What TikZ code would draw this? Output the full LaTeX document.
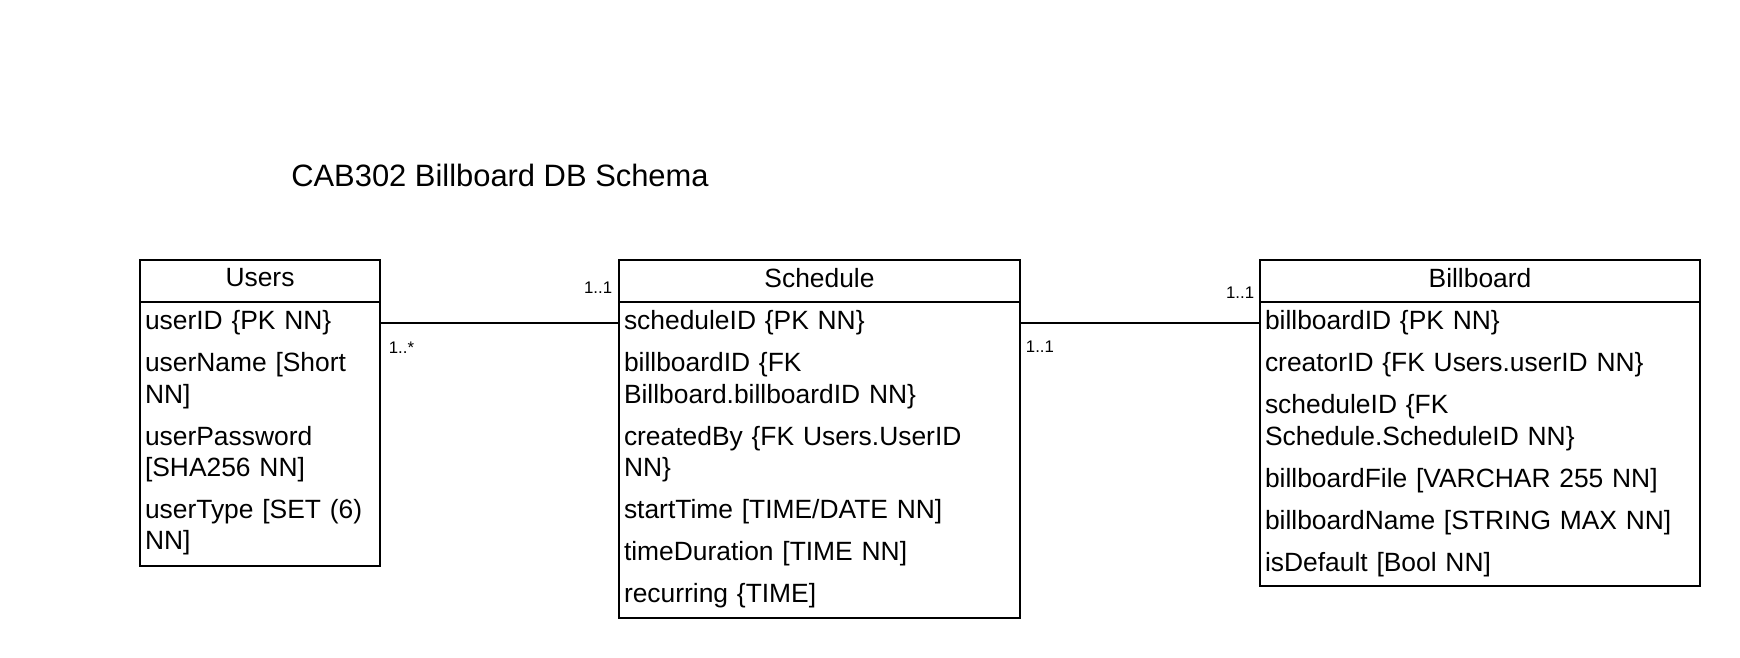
\documentclass[tikz,border=0pt]{standalone}
\usepackage{fontspec}
\setmainfont{Liberation Sans}
\usetikzlibrary{positioning}
\begin{document}
\begin{tikzpicture}[x=1pt, y=-1pt, line width=1.8pt, line join=miter,
	entity/.style={draw, minimum height=\rowh, text depth=6.8pt, inner sep=0pt, outer sep=0pt, anchor=north west, font=\fontsize{26.4}{31.3}\selectfont},
	field/.style={text width=#1, align=left, minimum height=\rowh, inner xsep=5pt, inner ysep=0pt, outer sep=0pt, font=\fontsize{26.4}{31.3}\selectfont},
	tworow/.style={minimum height=\rowhh},
	mult/.style={inner sep=0pt, font=\fontsize{16.8}{18}\selectfont}]
	\def\rowh{42pt} \def\rowhh{73.3pt} % row heights
	\useasboundingbox (0,0) rectangle (1740,658);
	\node[font=\fontsize{30.9}{36}\selectfont] (title) at (500,175) {CAB302 Billboard DB Schema};
	% Users
	\node[entity, minimum width=240pt] (users) at (140,260) {Users};
	\node[field=230pt, below=0pt of users] (userid) {userID \{PK NN\}};
	\node[field=230pt, tworow, below=0pt of userid] (username) {userName [Short\\ NN]};
	\node[field=230pt, tworow, below=0pt of username] (userpass) {userPassword\\{}[SHA256 NN]};
	\node[field=230pt, tworow, below=0pt of userpass] (usertype) {userType [SET (6)\\ NN]};
	\draw (users.north west) rectangle ([yshift=-2pt]usertype.south east);
	% Schedule
	\node[entity, minimum width=401pt] (sched) at (619,260) {Schedule};
	\node[field=391pt, below=0pt of sched] (schedid) {scheduleID \{PK NN\}};
	\node[field=391pt, tworow, below=0pt of schedid] (schedbill) {billboardID \{FK\\ Billboard.billboardID NN\}};
	\node[field=391pt, tworow, below=0pt of schedbill] (schedby) {createdBy \{FK Users.UserID\\ NN\}};
	\node[field=391pt, below=0pt of schedby] (schedstart) {startTime [TIME/DATE NN]};
	\node[field=391pt, below=0pt of schedstart] (scheddur) {timeDuration [TIME NN]};
	\node[field=391pt, below=0pt of scheddur] (schedrec) {recurring \{TIME]};
	\draw (sched.north west) rectangle ([yshift=-1.5pt]schedrec.south east);
	% Billboard
	\node[entity, minimum width=440pt] (bill) at (1260,260) {Billboard};
	\node[field=430pt, below=0pt of bill] (billid) {billboardID \{PK NN\}};
	\node[field=430pt, below=0pt of billid] (billcreator) {creatorID \{FK Users.userID NN\}};
	\node[field=430pt, tworow, below=0pt of billcreator] (billsched) {scheduleID \{FK\\ Schedule.ScheduleID NN\}};
	\node[field=430pt, below=0pt of billsched] (billfile) {billboardFile [VARCHAR 255 NN]};
	\node[field=430pt, below=0pt of billfile] (billname) {billboardName [STRING MAX NN]};
	\node[field=430pt, below=0pt of billname] (billdef) {isDefault [Bool NN]};
	\draw (bill.north west) rectangle ([yshift=-1pt]billdef.south east);
	% relations
	\draw (userid.east) -- (schedid.west)
		node[mult, pos=0, anchor=west, xshift=8pt, yshift=-25pt] (multusers) {1..*}
		node[mult, pos=1, anchor=east, xshift=-6pt, yshift=35pt] (multschedl) {1..1};
	\draw (schedid.east) -- (billid.west)
		node[mult, pos=0, anchor=west, xshift=5pt, yshift=-24pt] (multschedr) {1..1}
		node[mult, pos=1, anchor=east, xshift=-5pt, yshift=30pt] (multbill) {1..1};
\end{tikzpicture}
\end{document}
